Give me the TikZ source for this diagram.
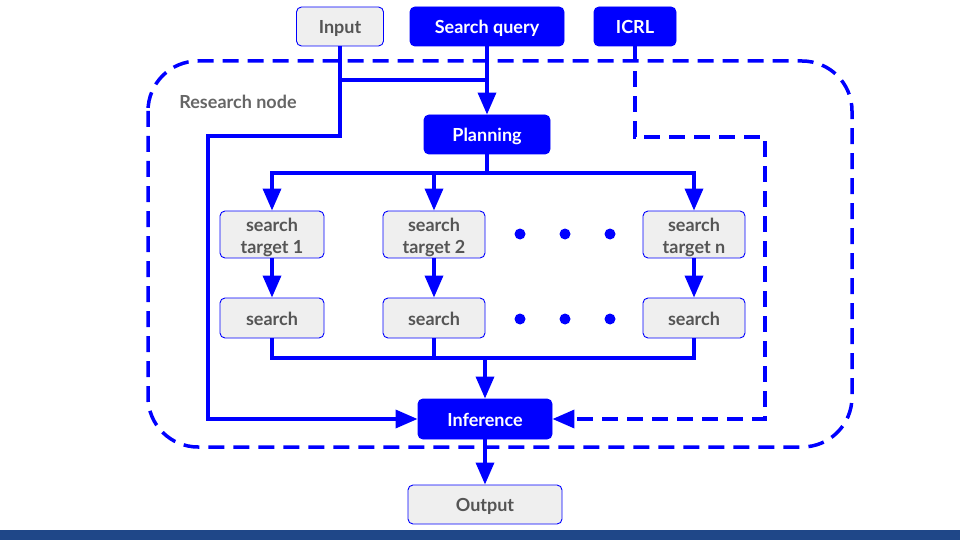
\documentclass[tikz,border=0pt]{standalone}
\usepackage{fontspec}
\setmainfont{Lato}
\usetikzlibrary{arrows.meta}
\definecolor{bl}{HTML}{0000FF}
\definecolor{boxgray}{HTML}{EFEFEF}
\definecolor{textgray}{HTML}{555555}
\definecolor{labgray}{HTML}{666666}
\definecolor{barblue}{HTML}{1F4788}
\newcommand{\upstrut}{\rule{0pt}{19pt}}
\begin{document}
\begin{tikzpicture}[x=1pt,y=-1pt,
  box/.style={rounded corners=5pt, draw=bl, line width=0.9pt, font=\bfseries\fontsize{18}{22}\selectfont, align=center, inner sep=0pt},
  one/.style={text height=18pt, text depth=3.6pt},
  gbox/.style={box, fill=boxgray, text=textgray},
  bbox/.style={box, one, fill=bl, text=white},
  conn/.style={draw=bl, line width=3.5pt},
  tip/.style={-{Triangle[width=18pt,length=22pt]}},
  arr/.style={conn, tip},
  dsh/.style={conn, dash pattern=on 16pt off 9pt}]
\useasboundingbox (0,0) rectangle (960,540);
\fill[white] (0,0) rectangle (960,540);
\fill[barblue] (0,530) rectangle (960,540);
% research node frame
\draw[dsh, rounded corners=50pt] (148,61) rectangle (852,447);
\node[font=\bfseries\fontsize{18}{21}\selectfont, text=labgray, one, inner sep=0pt] (lab) at (238,101) {Research node};
% nodes
\node[gbox, one, minimum width=87pt, minimum height=39pt] (input) at (340,26.5) {Input};
\node[bbox, minimum width=154pt, minimum height=39pt] (query) at (487,26.5) {Search query};
\node[bbox, minimum width=82pt, minimum height=39pt] (icrl) at (635,26.5) {ICRL};
\node[bbox, minimum width=126pt, minimum height=39pt] (plan) at (487,134.5) {Planning};
\node[gbox, minimum width=104pt, minimum height=47pt] (t1) at (272,234.5) {\upstrut search\\target 1};
\node[gbox, minimum width=102pt, minimum height=47pt] (t2) at (434,234.5) {\upstrut search\\target 2};
\node[gbox, minimum width=102pt, minimum height=47pt] (tn) at (694,234.5) {\upstrut search\\target n};
\node[gbox, one, minimum width=104pt, minimum height=40pt] (s1) at (272,318) {search};
\node[gbox, one, minimum width=102pt, minimum height=40pt] (s2) at (434,318) {search};
\node[gbox, one, minimum width=102pt, minimum height=40pt] (sn) at (694,318) {search};
\node[bbox, minimum width=134pt, minimum height=40pt] (inf) at (485,419) {Inference};
\node[gbox, one, minimum width=154pt, minimum height=39pt] (out) at (485,504.5) {Output};
% dots
\foreach \px/\py [count=\i] in {520/234,565/234,610/234,520/319,565/319,610/319}
  \fill[bl] (\px,\py) circle (5.5pt);
% connectors
\coordinate (ja) at (487,80);
\coordinate (jb) at (487,173);
\coordinate (jc) at (485,358);
\draw[arr] (input.south) -- (340,136) -- (208,136) |- (inf.west);
\draw[conn] (input.south |- ja) -- (ja);
\draw[arr] (query.south) -- (plan.north);
\draw[conn] (plan.south) -- (jb);
\draw[arr] (jb) -| (t1.north);
\draw[arr] (jb) -| (t2.north);
\draw[arr] (jb) -| (tn.north);
\draw[arr] (t1) -- (s1);
\draw[arr] (t2) -- (s2);
\draw[arr] (tn) -- (sn);
\draw[conn] (s1.south) |- (jc);
\draw[conn] (sn.south) |- (jc);
\draw[conn] (s2.south) -- (s2.south |- jc);
\draw[arr] (jc) -- (inf.north);
\draw[dsh, tip] (icrl.south) -- (635,137) -- (765,137) |- (inf.east);
\draw[arr] (inf.south) -- (out.north);
\end{tikzpicture}
\end{document}
